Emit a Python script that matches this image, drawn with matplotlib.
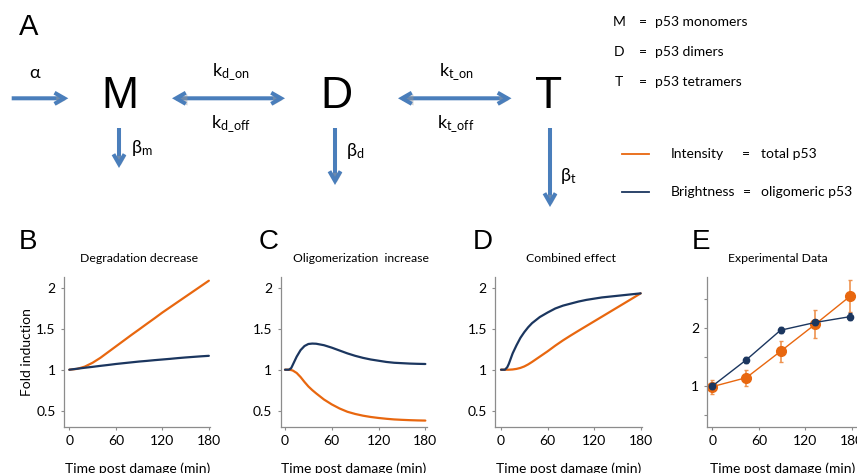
import matplotlib
matplotlib.use("Agg")
import matplotlib.pyplot as plt
from matplotlib.patches import FancyArrowPatch
from matplotlib.lines import Line2D
import matplotlib.patheffects as pe

plt.rcParams['font.family'] = ['Lato', 'DejaVu Sans']
plt.rcParams['mathtext.fontset'] = 'custom'
plt.rcParams['mathtext.rm'] = 'Lato'
plt.rcParams['mathtext.it'] = 'Lato:italic'
plt.rcParams['mathtext.bf'] = 'Lato:bold'

# ---------------- data ----------------
t_b = [0, 10, 20, 30, 40, 50, 60, 70, 80, 90, 100, 110, 120, 130, 140, 150, 160, 170, 180]
b_intensity = [1.0, 1.01, 1.038, 1.085, 1.145, 1.215, 1.285, 1.355, 1.425, 1.493, 1.562, 1.63, 1.70,
               1.765, 1.83, 1.895, 1.96, 2.025, 2.09]
b_brightness = [1.0, 1.012, 1.024, 1.035, 1.047, 1.058, 1.07, 1.08, 1.09, 1.10, 1.108, 1.117,
                1.125, 1.133, 1.142, 1.15, 1.157, 1.164, 1.17]

t_c = [0, 5, 8, 10, 15, 20, 25, 30, 35, 40, 50, 60, 70, 80, 90, 100, 110, 120, 130, 140, 150, 160, 170, 180]
c_brightness = [1.0, 1.0, 1.02, 1.06, 1.16, 1.24, 1.29, 1.315, 1.32, 1.318, 1.30, 1.27, 1.235, 1.20,
                1.17, 1.145, 1.125, 1.11, 1.095, 1.085, 1.08, 1.075, 1.072, 1.07]
c_intensity = [1.0, 1.0, 0.995, 0.99, 0.96, 0.91, 0.85, 0.795, 0.75, 0.71, 0.635, 0.575, 0.525, 0.485,
               0.458, 0.437, 0.421, 0.409, 0.399, 0.391, 0.386, 0.382, 0.379, 0.377]

t_d = [0, 5, 8, 10, 15, 20, 25, 30, 35, 40, 50, 60, 70, 80, 90, 100, 110, 120, 130, 140, 150, 160, 170, 180]
d_brightness = [1.0, 1.0, 1.03, 1.07, 1.20, 1.30, 1.39, 1.46, 1.52, 1.57, 1.645, 1.70, 1.75, 1.785,
                1.81, 1.835, 1.855, 1.87, 1.885, 1.895, 1.905, 1.915, 1.925, 1.935]
d_intensity = [1.0, 1.0, 1.0, 1.0, 1.003, 1.01, 1.022, 1.04, 1.065, 1.095, 1.16, 1.225, 1.295, 1.36,
               1.42, 1.478, 1.535, 1.592, 1.649, 1.706, 1.763, 1.82, 1.877, 1.935]

t_e = [0, 44, 88, 133, 178]
e_brightness = [1.0, 1.455, 1.965, 2.10, 2.20]
e_brightness_err = [0.05, 0.05, 0.05, 0.05, 0.06]
e_intensity = [0.99, 1.146, 1.60, 2.07, 2.555]
e_intensity_err = [0.12, 0.14, 0.18, 0.24, 0.28]

xticks = [0, 60, 120, 180]
yticks_model = [0.5, 1, 1.5, 2]
ytick_labels_model = ['0.5', '1', '1.5', '2']
yticks_exp = [0.5, 1, 1.5, 2, 2.5]
ytick_labels_exp = ['', '1', '', '2', '']

ORANGE = '#E8670F'
NAVY = '#1B365F'
ARROW = '#4A7EBB'
SPINE = '#8C8C8C'

W, H = 857, 473
fig = plt.figure(figsize=(W / 100, H / 100), dpi=100)


def px_axes(left, top, right, bottom, **kw):
    return fig.add_axes([left / W, 1 - bottom / H, (right - left) / W, (bottom - top) / H], **kw)


def style(ax):
    for s in ['top', 'right']:
        ax.spines[s].set_visible(False)
    for s in ['left', 'bottom']:
        ax.spines[s].set_color(SPINE)
        ax.spines[s].set_linewidth(0.9)
    ax.tick_params(length=2, width=0.8, color=SPINE, labelsize=10, pad=4)
    ax.set_xticks(xticks)
    ax.set_xticklabels([str(v) for v in xticks])
    ax.set_xlabel('Time post damage (min)', fontsize=10, labelpad=11)
    ax.patch.set_alpha(0)


AX_TOP, AX_BOT = 276.7, 426.7

axB = px_axes(63.9, AX_TOP, 210.4, AX_BOT)
axC = px_axes(280.7, AX_TOP, 426.9, AX_BOT)
axD = px_axes(495.2, AX_TOP, 642.2, AX_BOT)
axE = px_axes(707.3, AX_TOP, 857, AX_BOT)

for ax, xl in [(axB, (-7, 182)), (axC, (-5.5, 182)), (axD, (-7.5, 182))]:
    style(ax)
    ax.set_xlim(*xl)
    ax.set_ylim(0.302, 2.139)
    ax.set_yticks(yticks_model)
    ax.set_yticklabels(ytick_labels_model)

axB.plot(t_b, b_intensity, color=ORANGE, lw=1.6, solid_capstyle='round')
axB.plot(t_b, b_brightness, color=NAVY, lw=1.6, solid_capstyle='round')
axC.plot(t_c, c_intensity, color=ORANGE, lw=1.6, solid_capstyle='round')
axC.plot(t_c, c_brightness, color=NAVY, lw=1.6, solid_capstyle='round')
axD.plot(t_d, d_intensity, color=ORANGE, lw=1.6, solid_capstyle='round')
axD.plot(t_d, d_brightness, color=NAVY, lw=1.6, solid_capstyle='round')
axB.set_ylabel('Fold induction', fontsize=10, labelpad=2)

style(axE)
axE.set_xlim(-6.5, 186.7)
axE.set_ylim(0.298, 2.89)
axE.set_yticks(yticks_exp)
axE.set_yticklabels(ytick_labels_exp)
axE.errorbar(t_e, e_intensity, yerr=e_intensity_err, color=ORANGE, ecolor='#EE9350', lw=1.0,
             marker='o', ms=7, elinewidth=1.2, capsize=1.5, zorder=2)
axE.errorbar(t_e, e_brightness, yerr=e_brightness_err, color=NAVY, ecolor=NAVY, lw=1.0,
             marker='o', ms=4.5, elinewidth=1.2, capsize=1.5, zorder=3)

# titles and panel letters
fig.text(139 / W, 1 - 259 / H, 'Degradation decrease', ha='center', va='center', fontsize=8.8)
fig.text(361 / W, 1 - 259 / H, 'Oligomerization  increase', ha='center', va='center', fontsize=8.8)
fig.text(571 / W, 1 - 259 / H, 'Combined effect', ha='center', va='center', fontsize=8.8)
fig.text(778 / W, 1 - 259 / H, 'Experimental Data', ha='center', va='center', fontsize=8.8)
for letter, x in [('B', 28), ('C', 269), ('D', 483), ('E', 701)]:
    fig.text(x / W, 1 - 242 / H, letter, ha='center', va='center', fontsize=20,
             family=['Liberation Sans', 'DejaVu Sans'])
fig.text(29 / W, 1 - 27 / H, 'A', ha='center', va='center', fontsize=21,
         family=['Liberation Sans', 'DejaVu Sans'])

# ---------------- diagram (overlay in pixel coordinates) ----------------
ov = fig.add_axes([0, 0, 1, 1], zorder=-1)
ov.set_xlim(0, W)
ov.set_ylim(H, 0)
ov.axis('off')

shadow = [pe.SimplePatchShadow(offset=(1.2, -1.2), shadow_rgbFace='#9a9a9a', alpha=0.45), pe.Normal()]


def arrow(p0, p1, style_):
    a = FancyArrowPatch(p0, p1, arrowstyle=style_ + ',head_length=7,head_width=4',
                        color=ARROW, lw=2.9, mutation_scale=1, shrinkA=0, shrinkB=0,
                        capstyle='butt', joinstyle='miter', path_effects=shadow)
    ov.add_patch(a)


arrow((11.7, 98.3), (68.3, 98.3), '->')
arrow((172, 98.3), (285, 98.3), '<->')
arrow((398, 98.3), (511.5, 98.3), '<->')
arrow((119, 128), (119, 168), '->')
arrow((335, 128), (335, 185), '->')
arrow((550, 128), (550, 207), '->')

big = dict(fontsize=32, ha='center', va='center', family=['Liberation Sans', 'DejaVu Sans'])
ov.text(120, 96, 'M', **big)
ov.text(336, 96, 'D', **big)
ov.text(549, 96, 'T', **big)

sym = dict(fontsize=13, ha='center', va='center')
ov.text(35, 73, 'α', **sym)
ov.text(231, 72, r'k$_{\rm d\_on}$', **sym)
ov.text(231, 124, r'k$_{\rm d\_off}$', **sym)
ov.text(456, 72, r'k$_{\rm t\_on}$', **sym)
ov.text(456, 124, r'k$_{\rm t\_off}$', **sym)
ov.text(142, 148, r'β$_{\rm m}$', **sym)
ov.text(355, 151, r'β$_{\rm d}$', **sym)
ov.text(568, 176, r'β$_{\rm t}$', **sym)

# legend/key on the right
leg = dict(fontsize=10, va='center')
for y, a, b in [(21.7, 'M', 'p53 monomers'), (52, 'D', 'p53 dimers'), (82, 'T', 'p53 tetramers')]:
    ov.text(619, y, a, ha='center', **leg)
    ov.text(643, y, '=', ha='center', **leg)
    ov.text(655, y, b, ha='left', **leg)

ov.add_line(Line2D([622, 649], [154, 154], color=ORANGE, lw=1.3))
ov.add_line(Line2D([622, 649], [192, 192], color=NAVY, lw=1.3))
ov.text(671, 154, 'Intensity', ha='left', **leg)
ov.text(746, 154, '=', ha='center', **leg)
ov.text(761, 154, 'total p53', ha='left', **leg)
ov.text(671, 192, 'Brightness', ha='left', **leg)
ov.text(747, 192, '=', ha='center', **leg)
ov.text(761, 192, 'oligomeric p53', ha='left', **leg)

fig.savefig('out.png', dpi=100)
